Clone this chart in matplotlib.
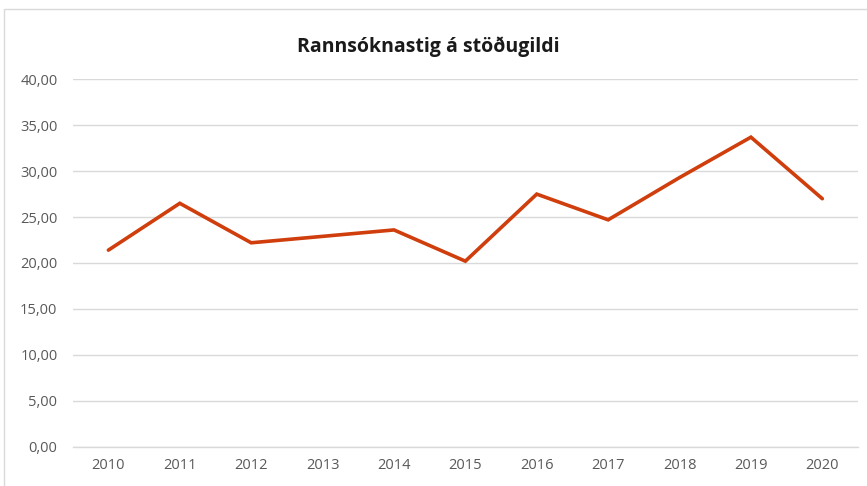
import matplotlib
matplotlib.use("Agg")
import matplotlib.pyplot as plt
from matplotlib.patches import Rectangle

years = ["2010", "2011", "2012", "2013", "2014", "2015", "2016", "2017", "2018", "2019", "2020"]
values = [21.4, 26.5, 22.2, 22.9, 23.6, 20.2, 27.5, 24.7, 29.3, 33.7, 27.0]
yticks = [0, 5, 10, 15, 20, 25, 30, 35, 40]
title = "Rannsóknastig á stöðugildi"

plt.rcParams['font.family'] = ['Open Sans', 'DejaVu Sans']

fig = plt.figure(figsize=(8.67, 4.86), dpi=100)
fig.patch.set_facecolor('white')
# outer chart border
fig.patches.append(Rectangle((4/867, -0.1), 1.2, 1 - 9/486 + 0.1, transform=fig.transFigure,
                             fill=False, edgecolor='#D9D9D9', linewidth=1.0))

ax = fig.add_axes([72.7/867, 1 - 446.7/486, (858 - 72.7)/867, (446.7 - 79.3)/486])
x = list(range(len(years)))
ax.plot(x, values, color='#CF3E0C', linewidth=2.6, solid_capstyle='round', solid_joinstyle='miter', zorder=3)

ax.set_xlim(-0.5, len(years) - 0.5)
ax.set_ylim(0, 40)
ax.set_yticks(yticks)
ax.set_yticklabels([f"{v:.2f}".replace('.', ',') for v in yticks])
ax.set_xticks(x)
ax.set_xticklabels(years)
ax.grid(axis='y', color='#D9D9D9', linewidth=1.0)
ax.axhline(0, color='#D9D9D9', linewidth=1.0, clip_on=False, zorder=1)
ax.set_axisbelow(True)
for s in ax.spines.values():
    s.set_visible(False)
ax.tick_params(axis='both', length=0, labelsize=10.5, labelcolor='#595959')
ax.tick_params(axis='y', pad=11)
ax.tick_params(axis='x', pad=8)

fig.text(428/867, 1 - 47/486, title, ha='center', va='center', fontsize=14,
         fontweight='bold', color='#1A1A1A', fontstretch='condensed')

fig.savefig("out.png", dpi=100)
